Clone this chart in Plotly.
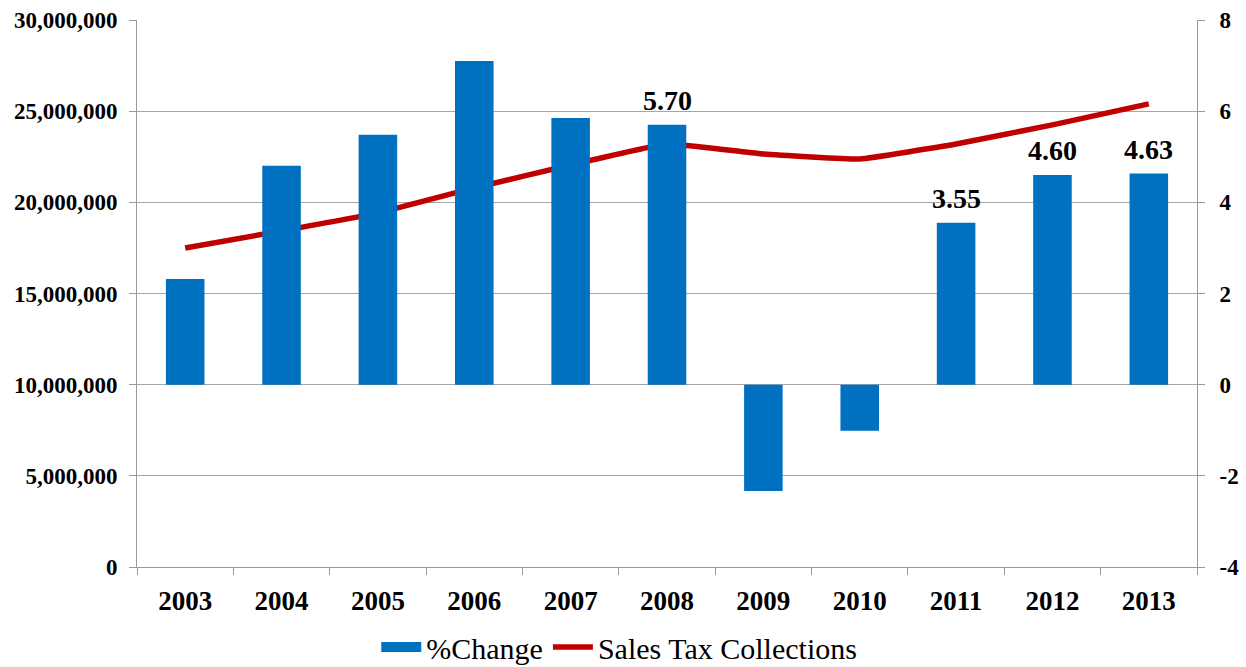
import plotly.graph_objects as go

years = ["2003", "2004", "2005", "2006", "2007", "2008", "2009", "2010", "2011", "2012", "2013"]
pct_change = [2.32, 4.80, 5.48, 7.10, 5.85, 5.70, -2.33, -1.01, 3.55, 4.60, 4.63]
pct_labels = ["", "", "", "", "", "5.70", "", "", "3.55", "4.60", "4.63"]
sales_tax = [17500000, 18430000, 19420000, 20790000, 22050000, 23200000,
             22650000, 22380000, 23200000, 24250000, 25400000]
right_ticks = [-4, -2, 0, 2, 4, 6, 8]
right_tick_text = ["-4", "-2", "0", "2", "4", "6", "8"]

serif = "Liberation Serif, Times New Roman, serif"
BLUE = "#0070C0"
RED = "#C00000"

fig = go.Figure()
fig.add_trace(go.Bar(
    x=years, y=pct_change, name="%Change", yaxis="y2",
    marker=dict(color=BLUE, line=dict(width=0)),
    width=0.4, showlegend=False,
))
# legend proxy for the bars (wide rectangle swatch)
fig.add_trace(go.Scatter(
    x=[years[0]], y=[None], name="%Change", mode="lines", yaxis="y2",
    line=dict(color=BLUE, width=15), hoverinfo="skip",
))
fig.add_trace(go.Scatter(
    x=years, y=sales_tax, name="Sales Tax Collections", mode="lines",
    line=dict(color=RED, width=5.5, shape="spline", smoothing=0.3),
))

for i, (v, lab) in enumerate(zip(pct_change, pct_labels)):
    if lab:
        fig.add_annotation(
            x=i, y=v, xref="x", yref="y2", text=lab, showarrow=False,
            yanchor="bottom", yshift=7,
            font=dict(family=serif, size=28, color="black", weight="bold"),
        )

fig.update_layout(
    width=1246, height=667,
    margin=dict(l=137, r=49, t=20, b=100, autoexpand=False),
    plot_bgcolor="white", paper_bgcolor="white",
    font=dict(family=serif, color="black"),
    showlegend=True,
    legend=dict(orientation="h", x=0.497, xanchor="center", xref="container",
                y=0.03, yanchor="middle", yref="container",
                font=dict(family=serif, size=30, color="black"),
                traceorder="normal", itemwidth=40),
    xaxis=dict(
        type="category", categoryorder="array", categoryarray=years,
        range=[-0.5, len(years) - 0.5],
        showline=True, linecolor="#999999", linewidth=1,
        ticks="outside", tickson="boundaries", ticklen=7, tickcolor="#999999",
        tickfont=dict(family=serif, size=27, color="black", weight="bold"),
        ticklabelstandoff=10, automargin=False, tickangle=0,
        mirror=False, showgrid=False,
    ),
    yaxis=dict(
        range=[0, 30000000], tickvals=[0, 5000000, 10000000, 15000000, 20000000, 25000000, 30000000],
        tickformat=",d", showgrid=True, gridcolor="#a6a6a6", gridwidth=1,
        showline=True, linecolor="#999999", linewidth=1,
        ticks="outside", ticklen=7, tickcolor="#999999",
        tickfont=dict(family=serif, size=23, color="black", weight="bold"),
        ticklabelstandoff=7, automargin=False,
        zeroline=False,
    ),
    yaxis2=dict(
        range=[-4, 8], tickvals=right_ticks, ticktext=right_tick_text,
        overlaying="y", side="right",
        showgrid=False, zeroline=False,
        showline=True, linecolor="#999999", linewidth=1,
        ticks="outside", ticklen=7, tickcolor="#999999",
        tickfont=dict(family=serif, size=23, color="black", weight="bold"),
        ticklabelstandoff=10, automargin=False,
    ),
)

fig.write_html("out.html")
